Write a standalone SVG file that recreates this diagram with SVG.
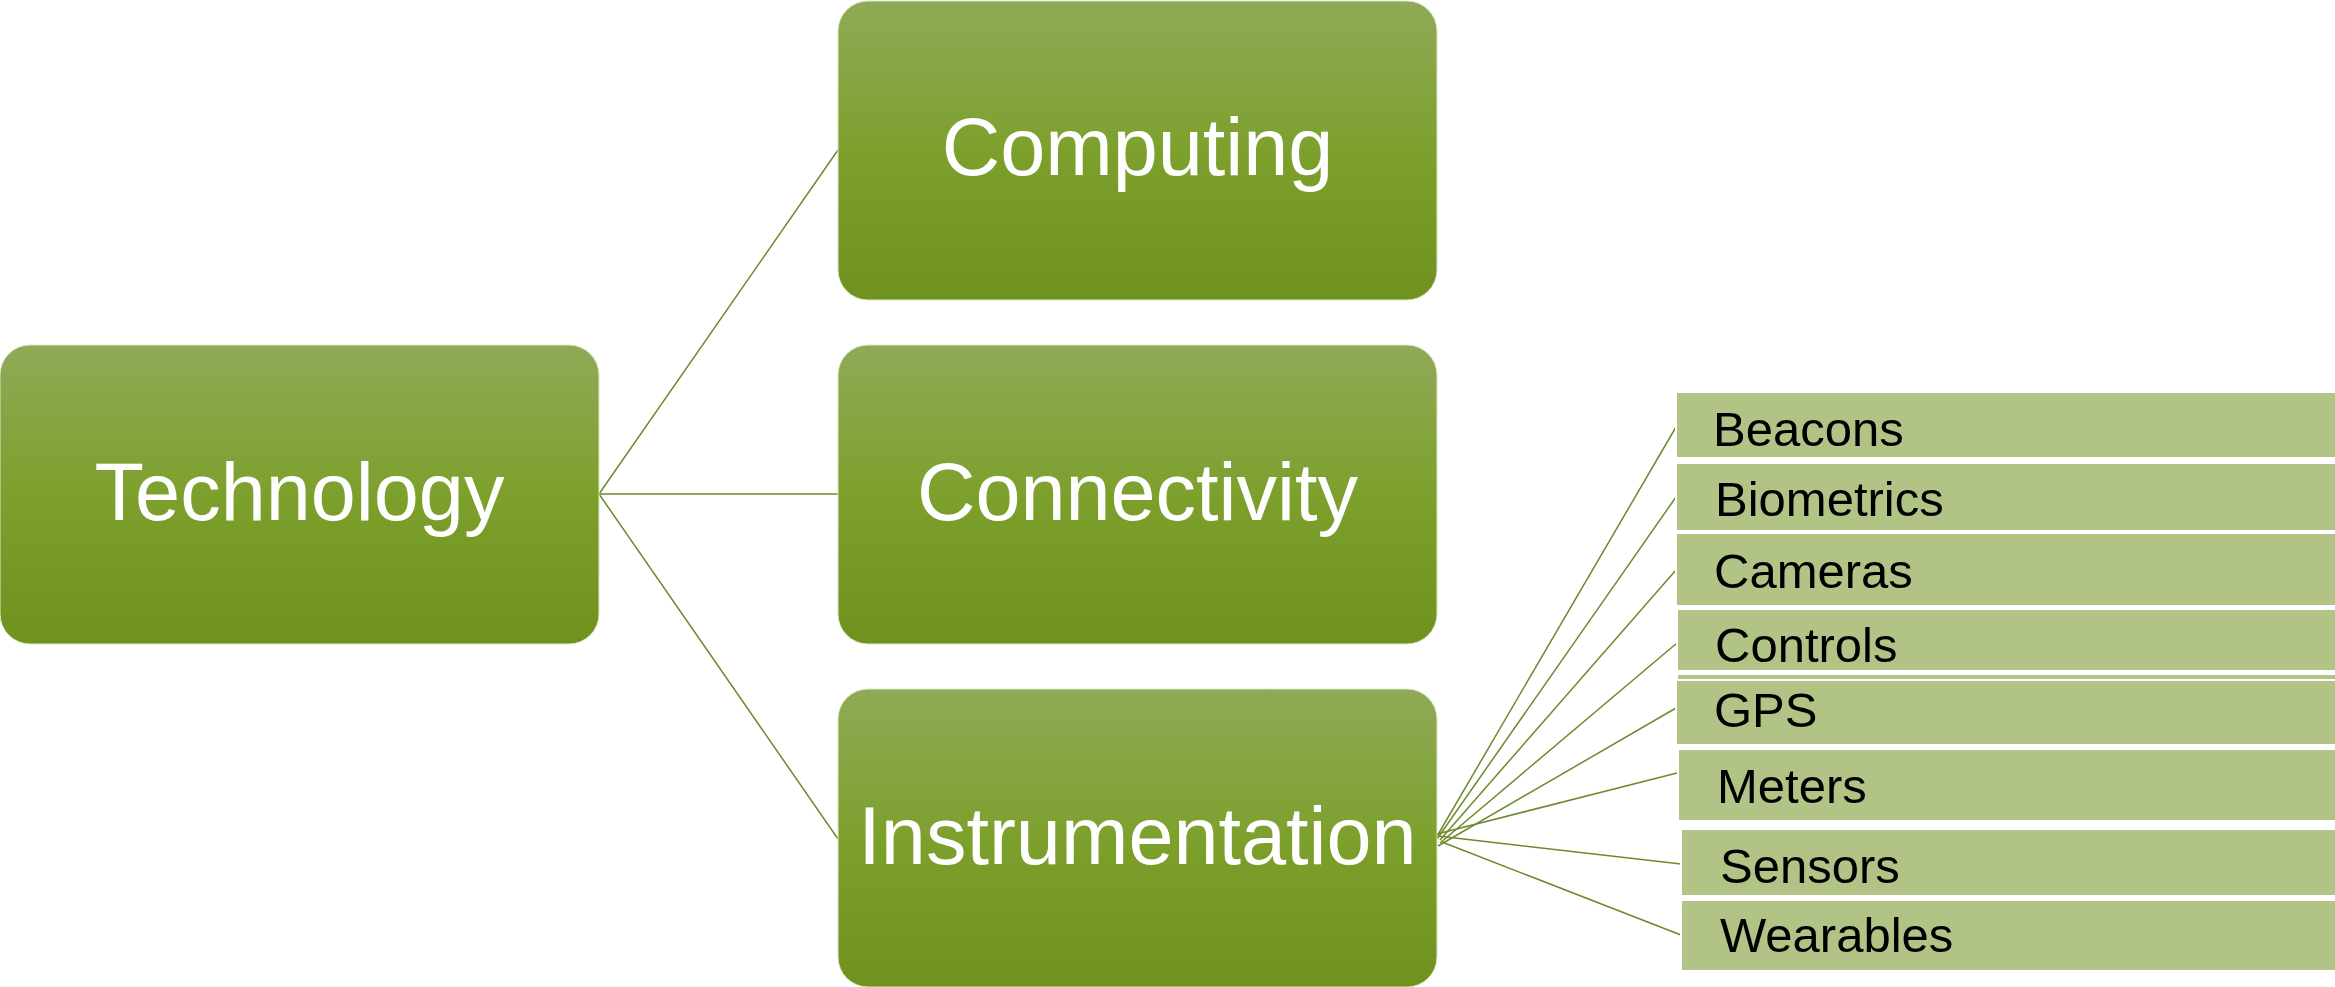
<svg xmlns="http://www.w3.org/2000/svg" width="2335" height="987" viewBox="0 0 2335 987">
  <defs>
    <linearGradient id="g" x1="0" y1="0" x2="0" y2="1">
      <stop offset="0" stop-color="#8FAA57"/>
      <stop offset="0.5" stop-color="#7DA02D"/>
      <stop offset="1" stop-color="#6F921F"/>
    </linearGradient>
    <style>
      .main rect { fill: url(#g); stroke: #DDE6C8; stroke-width: 1; }
      .main text { font-family: "Liberation Sans", Arial, sans-serif; font-size: 81px; fill: #FFFFFF; text-anchor: middle; }
      .item rect { fill: #B1C485; stroke: #FFFFFF; stroke-width: 2; }
      .item text { font-family: "Liberation Sans", Arial, sans-serif; font-size: 49px; fill: #000000; }
      .conn line { stroke: #6C8A2C; stroke-width: 1.5; fill: none; }
    </style>
  </defs>
  <rect width="2335" height="987" fill="#FFFFFF"/>

  <g id="connectors" class="conn">
    <line x1="599" y1="494" x2="838" y2="150"/>
    <line x1="599" y1="494" x2="838" y2="494"/>
    <line x1="599" y1="494" x2="838" y2="839"/>
    <line x1="1436" y1="838" x2="1676" y2="427"/>
    <line x1="1437" y1="839" x2="1676" y2="497"/>
    <line x1="1440" y1="840" x2="1676" y2="570"/>
    <line x1="1440" y1="843" x2="1677" y2="643"/>
    <line x1="1438" y1="846" x2="1676" y2="708"/>
    <line x1="1433" y1="835" x2="1677" y2="773"/>
    <line x1="1438" y1="836" x2="1681" y2="864"/>
    <line x1="1442" y1="842" x2="1681" y2="935"/>
  </g>

  <g id="technology" class="main">
    <rect x="0" y="345" width="599" height="299" rx="30" ry="30"/>
    <text x="299.5" y="520">Technology</text>
  </g>
  <g id="computing" class="main">
    <rect x="838" y="1" width="599" height="299" rx="30" ry="30"/>
    <text x="1137.5" y="175">Computing</text>
  </g>
  <g id="connectivity" class="main">
    <rect x="838" y="345" width="599" height="299" rx="30" ry="30"/>
    <text x="1137.5" y="520">Connectivity</text>
  </g>
  <g id="instrumentation" class="main">
    <rect x="838" y="689" width="599" height="298" rx="30" ry="30"/>
    <text x="1137.5" y="864">Instrumentation</text>
  </g>

  <g id="beacons" class="item">
    <rect x="1676" y="392" width="700" height="66"/>
    <text x="1713" y="446">Beacons</text>
  </g>
  <g id="biometrics" class="item">
    <rect x="1676" y="460" width="700" height="71"/>
    <rect x="1677" y="461" width="700" height="2" fill="#94AE59" stroke="none"/>
    <text x="1715" y="516">Biometrics</text>
  </g>
  <g id="cameras" class="item">
    <rect x="1676" y="533" width="700" height="73"/>
    <text x="1714" y="588">Cameras</text>
  </g>
  <g id="controls" class="item">
    <rect x="1677" y="609" width="700" height="62"/>
    <text x="1715" y="662">Controls</text>
  </g>
  <g id="gps" class="item">
    <rect x="1676" y="673" width="700" height="72"/>
    <rect x="1677" y="674" width="700" height="6" fill="#93AD52" stroke="none"/>
    <text x="1714" y="727">GPS</text>
  </g>
  <g id="meters" class="item">
    <rect x="1678" y="749" width="700" height="72"/>
    <text x="1717" y="803">Meters</text>
  </g>
  <g id="sensors" class="item">
    <rect x="1681" y="829" width="700" height="67"/>
    <text x="1720" y="883">Sensors</text>
  </g>
  <g id="wearables" class="item">
    <rect x="1681" y="900" width="700" height="71"/>
    <text x="1720" y="952">Wearables</text>
  </g>
</svg>
